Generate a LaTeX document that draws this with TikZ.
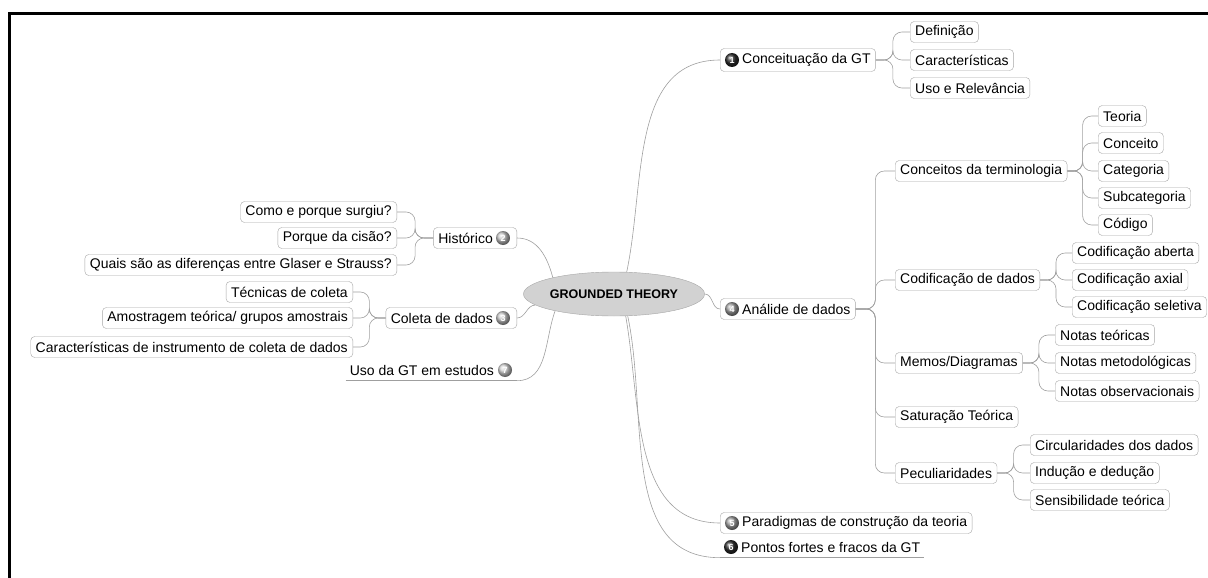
\documentclass[tikz,border=0pt]{standalone}
\usepackage{fontspec}
\setmainfont{Liberation Sans}
\usetikzlibrary{shapes,arrows,positioning,calc}
\tikzstyle{topic} = [draw=gray!70, fill=white, rounded corners=4pt, minimum height=21pt, inner xsep=5pt, inner ysep=1pt, font=\fontsize{14}{16}\selectfont]
\tikzstyle{bare} = [minimum height=21pt, inner xsep=4pt, inner ysep=1pt, font=\fontsize{14}{16}\selectfont]
\tikzstyle{root} = [ellipse, draw=gray!70, fill=gray!35, minimum width=150pt, minimum height=44pt, inner sep=0pt, font=\bfseries\fontsize{12.5}{14}\selectfont]
\tikzset{
  num/.style={circle, ball color=#1, inner sep=0pt, minimum size=14pt, text=white, font=\bfseries\fontsize{9}{9}\selectfont},
  branch/.style={draw=gray!75, line width=0.6pt, rounded corners=9pt,
    to path={-- ($(\tikztostart)!0.5!(\tikztostart -| \tikztotarget)$) |- (\tikztotarget)}},
  link/.style={draw=gray!75, line width=0.6pt}
}

\begin{document}
\begin{tikzpicture}[x=1pt,y=-1pt]
\useasboundingbox (0,0) rectangle (1208,578);
\draw[line width=3pt] (9.5,578) -- (9.5,14) -- (1208,14);

\node[root] (gt) at (614,294) {GROUNDED THEORY};

% right side
\node[topic, anchor=west, minimum height=23pt] (conc) at (720,60) {\hspace*{17pt}Conceituação da GT};
\node[num=gray!35!black] (n1) at ([xshift=12pt]conc.west) {1};
\node[topic, anchor=west] (def) at (910,32) {Definição};
\node[topic, anchor=west] (car) at (910,60) {Características};
\node[topic, anchor=west] (uso) at (910,88) {Uso e Relevância};

\node[topic, anchor=west] (anal) at (720,309) {\hspace*{17pt}Análide de dados};
\node[num=gray!75] (n4) at ([xshift=12pt]anal.west) {4};

\node[topic, anchor=west] (term) at (895,171) {Conceitos da terminologia};
\node[topic, anchor=west] (teo) at (1098,116) {Teoria};
\node[topic, anchor=west] (cpt) at (1098,143) {Conceito};
\node[topic, anchor=west] (cat) at (1098,171) {Categoria};
\node[topic, anchor=west] (sub) at (1098,198) {Subcategoria};
\node[topic, anchor=west] (cod) at (1098,225) {Código};

\node[topic, anchor=west] (codif) at (895,280) {Codificação de dados};
\node[topic, anchor=west] (abe) at (1072,253) {Codificação aberta};
\node[topic, anchor=west] (axi) at (1072,280) {Codificação axial};
\node[topic, anchor=west] (sel) at (1072,307) {Codificação seletiva};

\node[topic, anchor=west] (memo) at (895,363) {Memos/Diagramas};
\node[topic, anchor=west] (nteo) at (1055,335) {Notas teóricas};
\node[topic, anchor=west] (nmet) at (1055,363) {Notas metodológicas};
\node[topic, anchor=west] (nobs) at (1055,391) {Notas observacionais};

\node[topic, anchor=west] (sat) at (895,417) {Saturação Teórica};

\node[topic, anchor=west] (pec) at (895,473) {Peculiaridades};
\node[topic, anchor=west] (circ) at (1030,445) {Circularidades dos dados};
\node[topic, anchor=west] (ind) at (1030,473) {Indução e dedução};
\node[topic, anchor=west] (sens) at (1030,500) {Sensibilidade teórica};

\node[topic, anchor=west] (para) at (720,523) {\hspace*{17pt}Paradigmas de construção da teoria};
\node[num=gray!75] (n5) at ([xshift=12pt]para.west) {5};
\node[bare, anchor=west] (pont) at (720,547) {\hspace*{17pt}Pontos fortes e fracos da GT};
\node[num=gray!35!black] (n6) at ([xshift=11pt]pont.west) {6};

% left side
\node[topic, anchor=east] (hist) at (517,238) {Histórico\hspace*{19pt}};
\node[num=gray!45] (n2) at ([xshift=-14pt]hist.east) {2};
\node[topic, anchor=east] (como) at (397,212) {Como e porque surgiu?};
\node[topic, anchor=east] (cisao) at (397,238) {Porque da cisão?};
\node[topic, anchor=east] (dif) at (397,265) {Quais são as diferenças entre Glaser e Strauss?};

\node[topic, anchor=east] (col) at (517,318) {Coleta de dados\hspace*{19pt}};
\node[num=gray!45] (n3) at ([xshift=-14pt]col.east) {3};
\node[topic, anchor=east] (tec) at (353,292) {Técnicas de coleta};
\node[topic, anchor=east] (amo) at (353,318) {Amostragem teórica/ grupos amostrais};
\node[topic, anchor=east] (inst) at (353,347) {Características de instrumento de coleta de dados};

\node[bare, anchor=east] (est) at (517,370) {Uso da GT em estudos\hspace*{19pt}};
\node[num=gray!35] (n7) at ([xshift=-12pt]est.east) {7};

% root links
\path[link]
(gt.60) edge[out=78, in=180] (conc.west)
(gt.east) edge[out=0, in=180] (anal.west)
(gt.-62) edge[out=-80, in=180] (para.west)
(gt.-58) edge[out=-78, in=180] (pont.south west)
(gt.165) edge[out=105, in=0] (hist.east)
(gt.188) edge[out=180, in=0] (col.east)
(gt.196) edge[out=250, in=0] (est.south east);
\draw[link] (pont.south west) -- (pont.south east);
\draw[link] (est.south west) -- (est.south east);

% branches
\path
(conc.east) edge[branch] (def.west)
(conc.east) edge[branch] (car.west)
(conc.east) edge[branch] (uso.west)
(anal.east) edge[branch] (term.west)
(anal.east) edge[branch] (codif.west)
(anal.east) edge[branch] (memo.west)
(anal.east) edge[branch] (sat.west)
(anal.east) edge[branch] (pec.west)
(term.east) edge[branch] (teo.west)
(term.east) edge[branch] (cpt.west)
(term.east) edge[branch] (cat.west)
(term.east) edge[branch] (sub.west)
(term.east) edge[branch] (cod.west)
(codif.east) edge[branch] (abe.west)
(codif.east) edge[branch] (axi.west)
(codif.east) edge[branch] (sel.west)
(memo.east) edge[branch] (nteo.west)
(memo.east) edge[branch] (nmet.west)
(memo.east) edge[branch] (nobs.west)
(pec.east) edge[branch] (circ.west)
(pec.east) edge[branch] (ind.west)
(pec.east) edge[branch] (sens.west)
(hist.west) edge[branch] (como.east)
(hist.west) edge[branch] (cisao.east)
(hist.west) edge[branch] (dif.east)
(col.west) edge[branch] (tec.east)
(col.west) edge[branch] (amo.east)
(col.west) edge[branch] (inst.east);
\end{tikzpicture}
\end{document}
